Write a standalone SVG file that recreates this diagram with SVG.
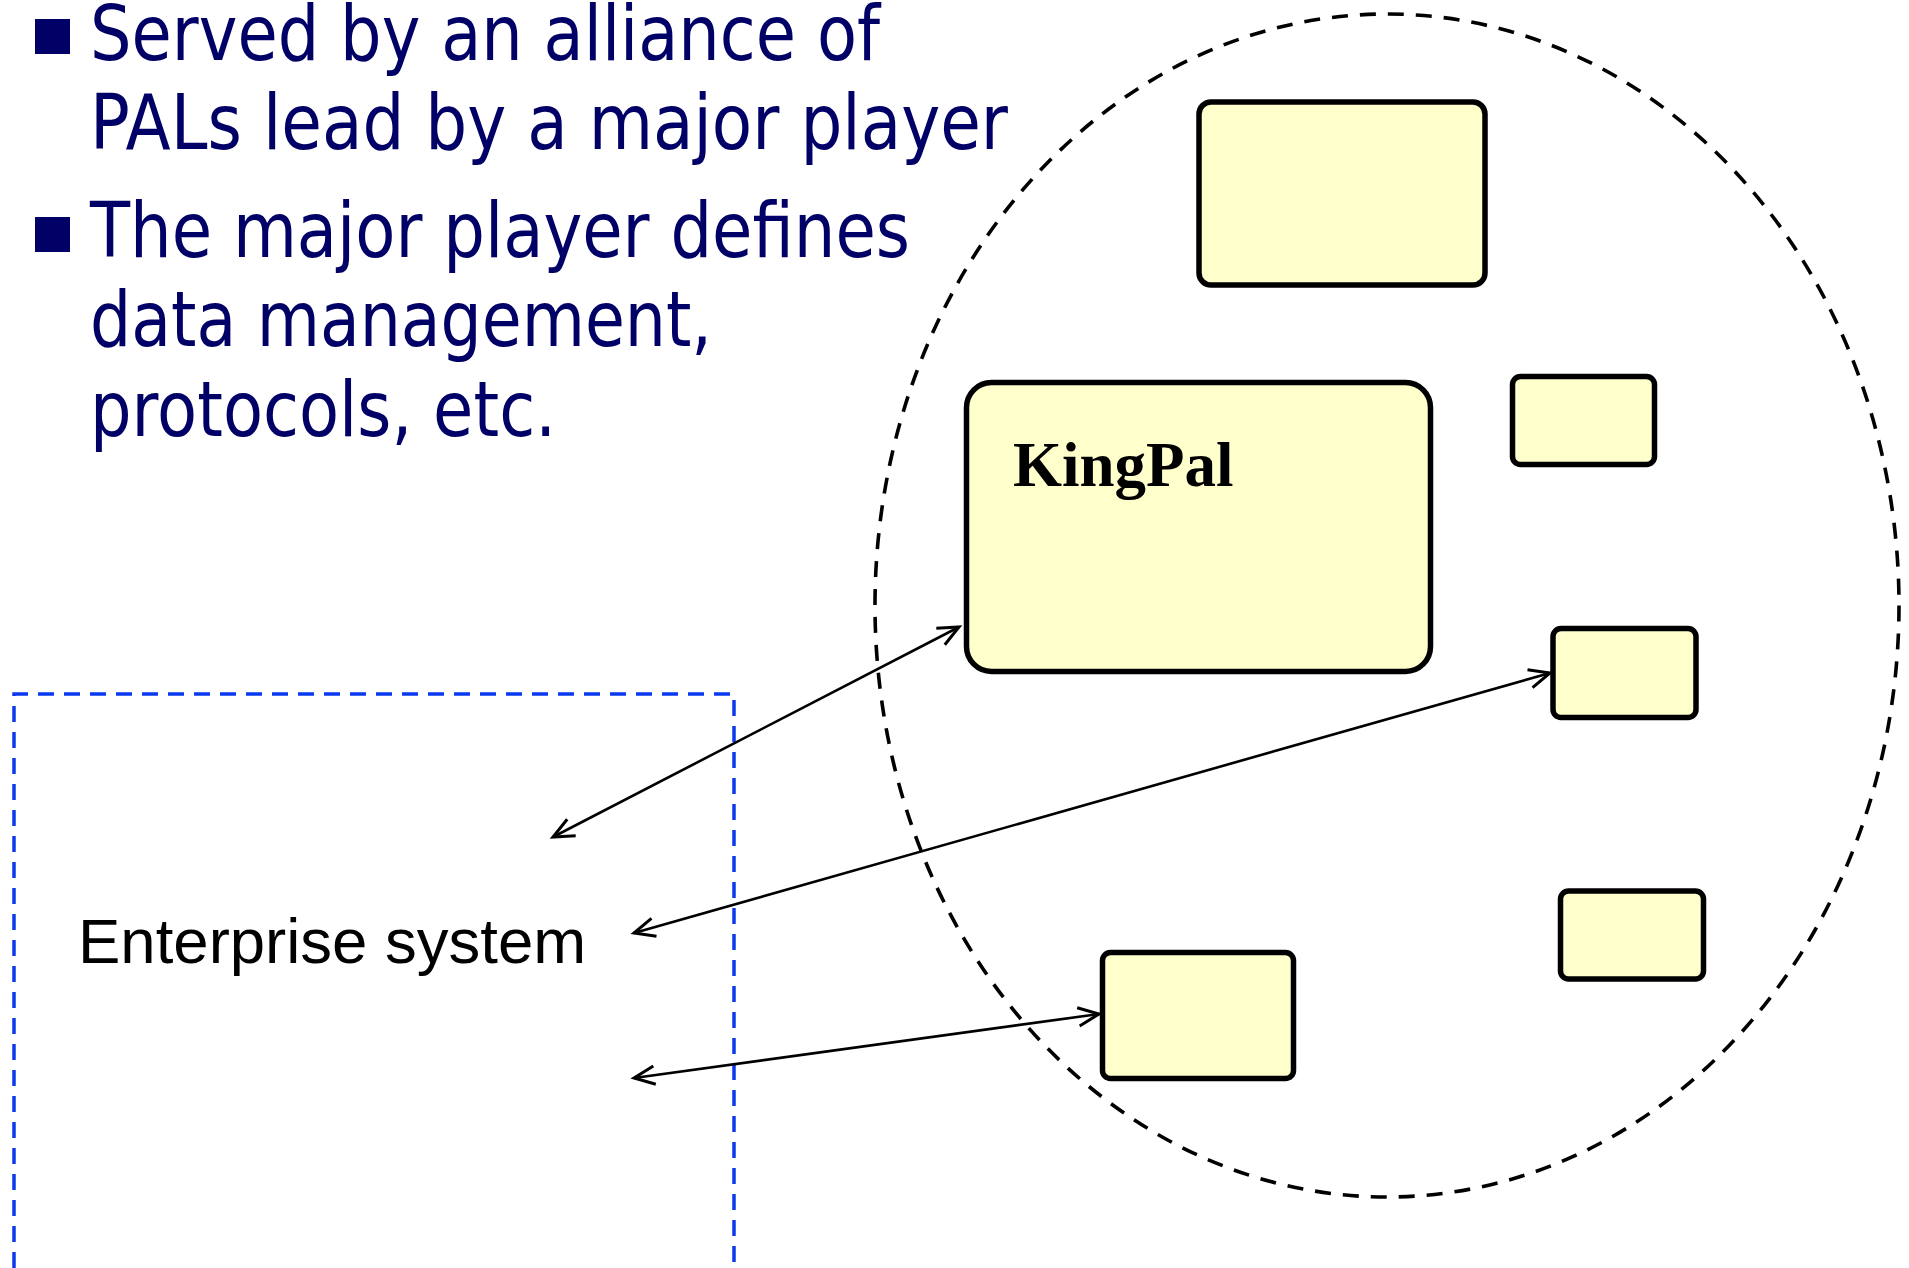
<svg xmlns="http://www.w3.org/2000/svg" width="1909" height="1268" viewBox="0 0 1909 1268">
  <style>
    .bullet-text { font-family: "DejaVu Sans", "Liberation Sans", sans-serif; font-size: 77px; fill: #000066; }
    .bullet { fill: #000066; }
    .pal { fill: #ffffcc; stroke: #000000; stroke-width: 5.5; }
    .alliance { fill: none; stroke: #000000; stroke-width: 3.6; stroke-dasharray: 16 12; }
    .enterprise { fill: none; stroke: #0a3af0; stroke-width: 3.5; stroke-dasharray: 16 10; }
    .link { fill: none; stroke: #000000; stroke-width: 2.6; marker-start: url(#open); marker-end: url(#open); }
    .label { font-family: "Liberation Sans", Arial, sans-serif; font-size: 63.5px; fill: #000000; }
    .title { font-family: "Liberation Serif", "Times New Roman", serif; font-weight: bold; font-size: 63px; fill: #000000; }
  </style>
  <defs>
    <marker id="open" markerUnits="userSpaceOnUse" markerWidth="30" markerHeight="30" viewBox="-22 -12 26 24" refX="0" refY="0" orient="auto-start-reverse">
      <path d="M-18,-8 L0,0 L-18,8" fill="none" stroke="#000000" stroke-width="2.6" stroke-linejoin="miter"/>
    </marker>
  </defs>

  <rect width="1909" height="1268" fill="#ffffff"/>

  <!-- bullet list -->
  <g id="bullets">
    <rect class="bullet" x="35" y="19" width="35" height="35"/>
    <text class="bullet-text" x="90" y="60" textLength="790" lengthAdjust="spacingAndGlyphs">Served by an alliance of</text>
    <text class="bullet-text" x="90" y="149" textLength="918" lengthAdjust="spacingAndGlyphs">PALs lead by a major player</text>
    <rect class="bullet" x="35" y="217" width="35" height="35"/>
    <text class="bullet-text" x="90" y="257" textLength="820" lengthAdjust="spacingAndGlyphs">The major player defines</text>
    <text class="bullet-text" x="90" y="346" textLength="622" lengthAdjust="spacingAndGlyphs">data management,</text>
    <text class="bullet-text" x="90" y="436" textLength="466" lengthAdjust="spacingAndGlyphs">protocols, etc.</text>
  </g>

  <!-- enterprise system boundary (open at the bottom edge) -->
  <g id="enterprise-system">
    <path class="enterprise" d="M14,1268 L14,694 L734,694 L734,1268"/>
    <text class="label" x="78" y="963">Enterprise system</text>
  </g>

  <!-- alliance boundary -->
  <g id="alliance">
    <ellipse class="alliance" cx="1387" cy="605.5" rx="512" ry="591.5"/>
  </g>

  <!-- PAL members -->
  <g id="kingpal">
    <rect class="pal" x="966.5" y="382.5" width="464" height="289" rx="25" ry="25"/>
    <text class="title" x="1013" y="486">KingPal</text>
  </g>
  <g id="pal-top">
    <rect class="pal" x="1199" y="102" width="286" height="183" rx="12" ry="12"/>
  </g>
  <g id="pal-right-1">
    <rect class="pal" x="1512.5" y="376.5" width="142" height="88" rx="8" ry="8"/>
  </g>
  <g id="pal-right-2">
    <rect class="pal" x="1553" y="628.5" width="143" height="89" rx="8" ry="8"/>
  </g>
  <g id="pal-right-3">
    <rect class="pal" x="1560.5" y="891" width="143" height="88" rx="8" ry="8"/>
  </g>
  <g id="pal-bottom">
    <rect class="pal" x="1102.5" y="952.5" width="191" height="126" rx="8" ry="8"/>
  </g>

  <!-- connectors -->
  <g id="connectors">
    <line class="link" x1="553" y1="837" x2="959" y2="627"/>
    <line class="link" x1="634" y1="933" x2="1550" y2="673"/>
    <line class="link" x1="634" y1="1078" x2="1099" y2="1014"/>
  </g>
</svg>
